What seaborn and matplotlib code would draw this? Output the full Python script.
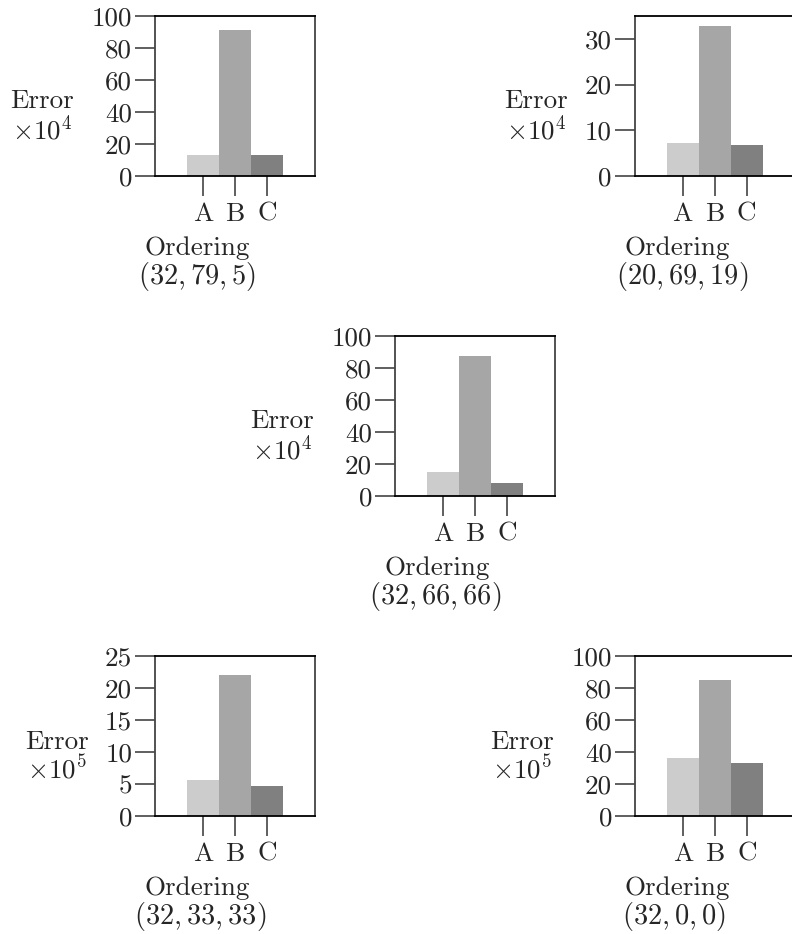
import matplotlib
matplotlib.use("Agg")
import matplotlib.pyplot as plt
import seaborn as sns
import pandas as pd

sns.set_theme(style="white")
plt.rcParams['font.family'] = ['cmr10', 'DejaVu Serif']
plt.rcParams['mathtext.fontset'] = 'cm'
plt.rcParams['axes.formatter.use_mathtext'] = True

categories = ["A", "B", "C"]
bar_colors = ["#cccccc", "#a6a6a6", "#808080"]

vals_p1 = [13.4, 91.5, 13.4]
vals_p2 = [7.3, 32.9, 6.7]
vals_p3 = [14.8, 87.5, 7.9]
vals_p4 = [5.6, 22.0, 4.7]
vals_p5 = [36.0, 85.0, 33.1]

titles = ["(32, 79, 5)", "(20, 69, 19)", "(32, 66, 66)", "(32, 33, 33)", "(32, 0, 0)"]
exponents = ["4", "4", "4", "5", "5"]
ymaxes = [100, 35, 100, 25, 100]
yticks_list = [[0, 20, 40, 60, 80, 100], [0, 10, 20, 30], [0, 20, 40, 60, 80, 100],
               [0, 5, 10, 15, 20, 25], [0, 20, 40, 60, 80, 100]]
all_vals = [vals_p1, vals_p2, vals_p3, vals_p4, vals_p5]

W, H = 792, 934
fig = plt.figure(figsize=(W / 100, H / 100), dpi=100)

# (left px, top px) of each axes box
boxes = [(155, 16), (634.7, 16), (395, 336), (155, 656), (635, 656)]
ylab_x = [-0.706, -0.617, -0.706, -0.615, -0.706]
tuple_x = [0.266, 0.30, 0.25, 0.28, 0.245]
FS = 19.5
FS_T = 20.5

for i, (lx, ty) in enumerate(boxes):
    ax = fig.add_axes([lx / W, 1 - (ty + 160) / H, 160 / W, 160 / H])
    df = pd.DataFrame({"cat": categories, "val": all_vals[i]})
    sns.barplot(data=df, x="cat", y="val", hue="cat", palette=bar_colors,
                width=1.0, dodge=False, legend=False, ax=ax, saturation=1,
                linewidth=0)
    ax.set_xlim(-1.5, 3.5)
    ax.set_ylim(0, ymaxes[i])
    ax.set_yticks(yticks_list[i])
    ax.set_yticklabels([str(t) for t in yticks_list[i]])
    ax.set_xticks([0, 1, 2])
    ax.set_xticklabels(categories)
    ax.set_xlabel("")
    ax.set_ylabel("")
    ax.tick_params(axis="both", which="major", direction="out", length=14.4,
                   width=1.2, color="#444444", labelsize=FS)
    ax.tick_params(axis="y", pad=2.0, left=True)
    ax.tick_params(axis="x", pad=4.5, bottom=True)
    for side in ["left", "right"]:
        ax.spines[side].set_color("#444444")
        ax.spines[side].set_linewidth(1.3)
    for side in ["top", "bottom"]:
        ax.spines[side].set_color("black")
        ax.spines[side].set_linewidth(1.3)
    ax.spines["right"].set_visible(True)
    ax.spines["top"].set_visible(True)

    ax.text(ylab_x[i], 0.37, "Error\n" + r"$\times 10^{" + exponents[i] + "}$",
            transform=ax.transAxes, ha="center", va="center",
            multialignment="center", fontsize=FS, linespacing=1.05)
    ax.text(0.266, -0.45, "Ordering", transform=ax.transAxes,
            ha="center", va="center", fontsize=FS)
    ax.text(tuple_x[i], -0.63, "$" + titles[i] + "$", transform=ax.transAxes,
            ha="center", va="center", fontsize=FS_T)

fig.savefig("out.png", dpi=100)
